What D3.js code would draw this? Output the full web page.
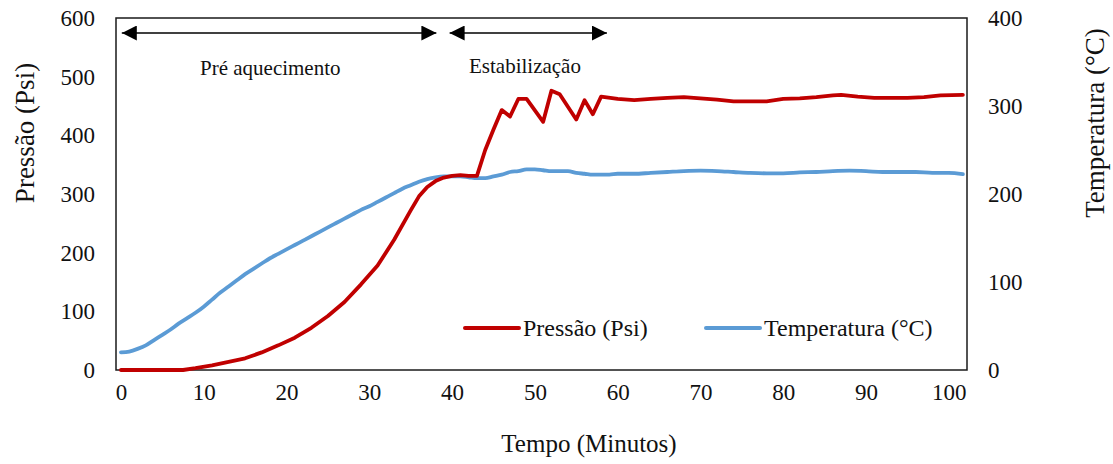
<!DOCTYPE html>
<html>
<head>
<meta charset="utf-8">
<script src="https://cdn.jsdelivr.net/npm/d3@7"></script>
<style>
  body { margin: 0; background: #fff; }
  text { font-family: 'Liberation Serif', 'Times New Roman', serif; fill: #111; }
</style>
</head>
<body>
<svg id="chart" width="1113" height="464"></svg>
<script>
// Pressão (Psi)
const pressaoTempo = [0, 2, 4, 6, 7.5, 9, 11, 13, 15, 17, 19, 21, 23, 25, 27, 29, 31, 33, 35, 36, 37, 38, 39, 40, 41, 42, 43, 44, 45, 46, 47, 48, 49, 51, 52, 53, 55, 56, 57, 58, 60, 62, 64, 66, 68, 70, 72, 74, 76, 78, 80, 82, 84, 86, 87, 89, 91, 93, 95, 97, 99, 101.7];
const pressao = [0, 0, 0, 0, 0, 3, 8, 14, 20, 30, 42, 55, 72, 92, 116, 146, 178, 222, 272, 296, 312, 322, 328, 331, 332, 331, 331, 375, 410, 443, 432, 462, 462, 423, 476, 470, 427, 460, 436, 466, 462, 460, 462, 464, 465, 463, 461, 458, 458, 458, 462, 463, 465, 468, 469, 466, 464, 464, 464, 465, 468, 469];

// Temperatura (°C)
const tempTempo = [0, 1, 2, 3, 4, 5, 6, 7, 8, 9, 10, 11, 12, 13, 14, 15, 16, 17, 18, 19, 20, 21, 22, 23, 24, 25, 26, 27, 28, 29, 30, 31, 32, 33, 34, 35, 36, 37, 38, 39, 40, 41, 42, 43, 44, 45, 46, 47, 48, 49, 50, 51, 52, 53, 54, 55, 56, 57, 58, 59, 60, 62, 64, 66, 68, 70, 72, 74, 76, 78, 80, 82, 84, 86, 88, 90, 92, 94, 96, 98, 100, 101.7];
const temperatura = [20, 21, 24, 28, 34, 40, 46, 53, 59, 65, 72, 80, 88, 95, 102, 109, 115, 121, 127, 132, 137, 142, 147, 152, 157, 162, 167, 172, 177, 182, 186, 191, 196, 201, 206, 210, 214, 217, 219, 220, 220, 220, 219, 218, 218, 220, 222, 225, 226, 228, 228, 227, 226, 226, 226, 224, 223, 222, 222, 222, 223, 223, 224, 225, 226, 226.5, 226, 225, 224, 223.5, 223.5, 224.5, 225, 226, 226.5, 226, 225, 225, 225, 224, 224, 222.5];

const xTicks = [0, 10, 20, 30, 40, 50, 60, 70, 80, 90, 100];
const yLeftTicks = [0, 100, 200, 300, 400, 500, 600];
const yRightTicks = [0, 100, 200, 300, 400];

// fases do ensaio (minutos)
const fases = [
  { label: 'Pré aquecimento', ini: 0.1, fim: 38.1 },
  { label: 'Estabilização', ini: 39.7, fim: 58.7 }
];

const svg = d3.select('#chart');
const plotLeft = 116, plotRight = 967, plotTop = 18, plotBottom = 370;

const x = d3.scaleLinear().domain([-0.6, 102.2]).range([plotLeft, plotRight]);
const yP = d3.scaleLinear().domain([0, 600]).range([plotBottom, plotTop]);
const yT = d3.scaleLinear().domain([0, 400]).range([plotBottom, plotTop]);

const redColor = '#C00000', blueColor = '#5B9BD5';

// axes
const xAxis = svg.append('g')
  .attr('transform', `translate(0,${plotBottom})`)
  .call(d3.axisBottom(x).tickValues(xTicks).tickSize(0).tickPadding(14));
const yAxisL = svg.append('g')
  .attr('transform', `translate(${plotLeft},0)`)
  .call(d3.axisLeft(yP).tickValues(yLeftTicks).tickSize(0).tickPadding(21));
const yAxisR = svg.append('g')
  .attr('transform', `translate(${plotRight},0)`)
  .call(d3.axisRight(yT).tickValues(yRightTicks).tickSize(0).tickPadding(21));

[xAxis, yAxisL, yAxisR].forEach((a) => {
  a.select('.domain').remove();
  a.selectAll('text')
    .attr('font-family', "'Liberation Serif', 'Times New Roman', serif")
    .attr('font-size', '23px')
    .attr('fill', '#111');
});
xAxis.selectAll('text').attr('dy', '0.71em');

// frame
svg.append('rect')
  .attr('x', plotLeft).attr('y', plotTop)
  .attr('width', plotRight - plotLeft).attr('height', plotBottom - plotTop)
  .attr('fill', 'none')
  .attr('stroke', '#1a1a1a')
  .attr('stroke-width', 1.5);

// series
const pressaoData = pressaoTempo.map((t, i) => ({ t: t, v: pressao[i] }));
const tempData = tempTempo.map((t, i) => ({ t: t, v: temperatura[i] }));

svg.append('path')
  .datum(tempData)
  .attr('fill', 'none')
  .attr('stroke', blueColor)
  .attr('stroke-width', 3.8)
  .attr('stroke-linejoin', 'round')
  .attr('stroke-linecap', 'round')
  .attr('d', d3.line().x((d) => x(d.t)).y((d) => yT(d.v)).curve(d3.curveMonotoneX));

svg.append('path')
  .datum(pressaoData)
  .attr('fill', 'none')
  .attr('stroke', redColor)
  .attr('stroke-width', 3.8)
  .attr('stroke-linejoin', 'round')
  .attr('stroke-linecap', 'round')
  .attr('d', d3.line().x((d) => x(d.t)).y((d) => yP(d.v)));

// arrows
const defs = svg.append('defs');
['start', 'end'].forEach((k) => {
  defs.append('marker')
    .attr('id', `head-${k}`)
    .attr('viewBox', '0 0 10 10')
    .attr('refX', k == 'end' ? 10 : 0).attr('refY', 5)
    .attr('markerWidth', 15).attr('markerHeight', 15)
    .attr('markerUnits', 'userSpaceOnUse')
    .attr('orient', 'auto')
    .append('path')
    .attr('d', k == 'end' ? 'M0,0 L10,5 L0,10 Z' : 'M10,0 L0,5 L10,10 Z')
    .attr('fill', '#000');
});

const arrowY = 33;
svg.selectAll('line.fase').data(fases).enter()
  .append('line')
  .attr('class', 'fase')
  .attr('x1', (d) => x(d.ini))
  .attr('x2', (d) => x(d.fim))
  .attr('y1', arrowY).attr('y2', arrowY)
  .attr('stroke', '#000')
  .attr('stroke-width', 1.3)
  .attr('marker-start', 'url(#head-start)')
  .attr('marker-end', 'url(#head-end)');

svg.append('text').attr('x', 200).attr('y', 75).attr('font-size', '21px').text(fases[0].label);
svg.append('text').attr('x', 469).attr('y', 73).attr('font-size', '21px').text(fases[1].label);

// legend
const legend = [
  { label: 'Pressão (Psi)', color: redColor, x: 465 },
  { label: 'Temperatura (°C)', color: blueColor, x: 706 }
];
const lg = svg.append('g');
legend.forEach((e) => {
  lg.append('line')
    .attr('x1', e.x).attr('x2', e.x + 54)
    .attr('y1', 328).attr('y2', 328)
    .attr('stroke', e.color)
    .attr('stroke-width', 4)
    .attr('stroke-linecap', 'round');
  lg.append('text')
    .attr('x', e.x + 58).attr('y', 336)
    .attr('font-size', '24px')
    .text(e.label);
});

// axis titles
svg.append('text')
  .attr('x', 589).attr('y', 452)
  .attr('text-anchor', 'middle')
  .attr('font-size', '25px')
  .text('Tempo (Minutos)');
svg.append('text')
  .attr('transform', 'translate(34,133) rotate(-90)')
  .attr('text-anchor', 'middle')
  .attr('font-size', '27px')
  .text('Pressão (Psi)');
svg.append('text')
  .attr('transform', 'translate(1104,123) rotate(-90)')
  .attr('text-anchor', 'middle')
  .attr('font-size', '27px')
  .text('Temperatura (°C)');
</script>
</body>
</html>
